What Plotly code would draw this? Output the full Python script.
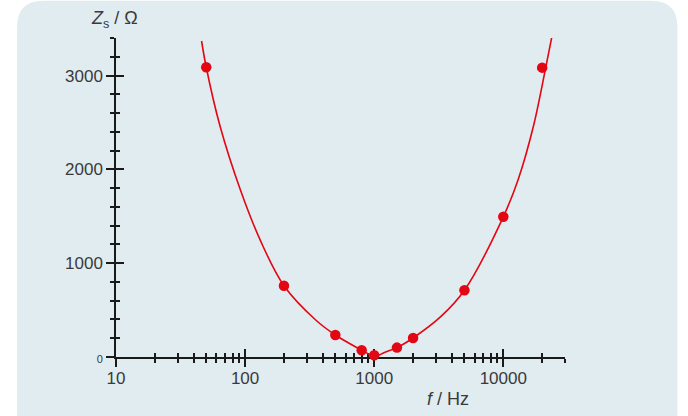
import math
import plotly.graph_objects as go

# ---- data ----
freq_pts = [50, 200, 500, 800, 1000, 1500, 2000, 5000, 10000, 20000]
z_pts = [3090, 760, 235, 72, 18, 100, 203, 712, 1495, 3086]

curve_f = [46, 50, 64, 92, 131, 200, 354, 500, 800, 900, 1000, 1200, 1500, 2000, 3260, 5000, 10000, 13000, 17200, 21300, 23700]
curve_z = [3370, 3090, 2460, 1780, 1246, 760, 392, 235, 72, 33, 2, 48, 100, 203, 427, 712, 1495, 1887, 2474, 3086, 3406]

x_major = [10, 100, 1000, 10000]
x_major_text = ["10", "100", "1000", "10000"]
x_minor = [m * d for d in (10, 100, 1000) for m in range(2, 10)] + [20000, 30000]

y_major = [0, 1000, 2000, 3000]
y_major_text = ["<span style='font-size:11px'>0</span>", "1000", "2000", "3000"]
y_minor = list(range(0, 3401, 200))

RED = "#e30613"
INK = "#1a1a1a"
TXT = "#3a3a3a"
PANEL = "#e1ecf0"

# ---- layout geometry (pixels) ----
W_FIG, H_FIG = 688, 416
L, R, T, B = 116, 565.5, 38.3, 356.7
PW, PH = R - L, B - T


def fx(px):
    return (px - L) / PW


def fy(py):
    return (B - py) / PH


x_range = [1, math.log10(30050)]
y_range = [0, 3402]

fig = go.Figure()
fig.add_trace(go.Scatter(
    x=curve_f, y=curve_z, mode="lines",
    line=dict(color=RED, width=1.6, shape="spline", smoothing=1.0),
    xaxis="x", yaxis="y", hoverinfo="skip", showlegend=False))
fig.add_trace(go.Scatter(
    x=freq_pts, y=z_pts, mode="markers",
    marker=dict(color=RED, size=10.5),
    xaxis="x2", yaxis="y2", cliponaxis=False, showlegend=False))

common_x = dict(type="log", range=x_range, showgrid=False, zeroline=False,
                tickmode="array", tickvals=x_major, tickwidth=1.5, tickcolor=INK,
                ticklen=8, layer="below traces", fixedrange=True)
common_y = dict(range=y_range, showgrid=False, zeroline=False,
                tickmode="array", tickvals=y_major, tickwidth=1.5, tickcolor=INK,
                ticklen=8, layer="below traces", fixedrange=True)

fig.update_layout(
    width=W_FIG, height=H_FIG,
    margin=dict(l=L, r=W_FIG - R, t=T, b=H_FIG - B, pad=0),
    paper_bgcolor="white", plot_bgcolor="rgba(0,0,0,0)",
    font=dict(family="Liberation Sans, Arial, sans-serif", color=TXT),
    xaxis=dict(**common_x, ticks="outside", showline=True, linecolor=INK, linewidth=1.5,
               ticktext=x_major_text, tickfont=dict(size=17, color=TXT),
               ticklabelstandoff=-3,
               minor=dict(tickmode="array", tickvals=x_minor, ticks="outside",
                          ticklen=4, tickwidth=1.5, tickcolor=INK, showgrid=False)),
    xaxis2=dict(**common_x, ticks="inside", overlaying="x", anchor="y2", side="bottom",
                showline=False, showticklabels=False,
                minor=dict(tickmode="array", tickvals=x_minor, ticks="inside",
                           ticklen=4, tickwidth=1.5, tickcolor=INK, showgrid=False)),
    yaxis=dict(**common_y, ticks="outside", showline=True, linecolor=INK, linewidth=1.5,
               ticktext=y_major_text, tickfont=dict(size=17, color=TXT),
               minor=dict(tickmode="array", tickvals=y_minor, ticks="outside",
                          ticklen=4, tickwidth=1.5, tickcolor=INK, showgrid=False)),
    yaxis2=dict(**common_y, ticks="inside", overlaying="y", anchor="x2", side="left",
                showline=False, showticklabels=False,
                minor=dict(tickmode="array", tickvals=y_minor, ticks="inside",
                           ticklen=4, tickwidth=1.5, tickcolor=INK, showgrid=False)),
)

# rounded background panel
x0, x1, y0, y1, r = 17, 678, 1, 445, 26
path = (
    f"M {fx(x0 + r)} {fy(y0)} L {fx(x1 - r)} {fy(y0)} "
    f"Q {fx(x1)} {fy(y0)} {fx(x1)} {fy(y0 + r)} "
    f"L {fx(x1)} {fy(y1 - r)} Q {fx(x1)} {fy(y1)} {fx(x1 - r)} {fy(y1)} "
    f"L {fx(x0 + r)} {fy(y1)} Q {fx(x0)} {fy(y1)} {fx(x0)} {fy(y1 - r)} "
    f"L {fx(x0)} {fy(y0 + r)} Q {fx(x0)} {fy(y0)} {fx(x0 + r)} {fy(y0)} Z"
)
fig.add_shape(type="path", path=path, xref="paper", yref="paper",
              fillcolor=PANEL, line=dict(width=0), layer="below")

fig.add_annotation(text="<i>Z</i><sub>s</sub> / Ω", xref="paper", yref="paper",
                   x=fx(114), y=fy(20), xanchor="center", yanchor="middle",
                   showarrow=False, font=dict(size=18, color=TXT))
fig.add_annotation(text="<i>f</i> / Hz", xref="paper", yref="paper",
                   x=fx(448), y=fy(399), xanchor="center", yanchor="middle",
                   showarrow=False, font=dict(size=18, color=TXT))

fig.write_html("out.html", config={"displayModeBar": False},
               post_script="document.body.style.margin='0';document.body.style.overflow='hidden';")
